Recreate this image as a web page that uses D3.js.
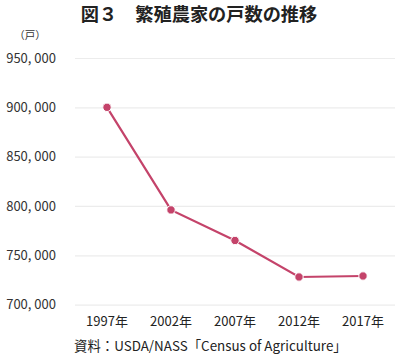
<!DOCTYPE html>
<html><head><meta charset="utf-8">
<script src="https://cdn.jsdelivr.net/npm/d3@7"></script>
<style>body{margin:0;background:#fff}svg{display:block}text{font-family:"Noto Sans CJK JP","Noto Sans",sans-serif}</style>
</head><body>
<script>
const categories = ["1997年","2002年","2007年","2012年","2017年"];
const values = [900000, 796000, 765000, 728000, 729000];
const yTicks = [700000, 750000, 800000, 850000, 900000, 950000];
const title = "図３　繁殖農家の戸数の推移";
const unit = "（戸）";
const source = "資料：USDA/NASS「Census of Agriculture」";

const W = 400, H = 358;
const svg = d3.select("body").append("svg").attr("width", W).attr("height", H);
const x = d3.scaleBand().domain(categories).range([75, 395]);
const y = d3.scaleLinear().domain([700000, 950000]).range([304.6, 58]);
const fmt = v => d3.format(",")(v).replace(",", ", ");

svg.append("text").attr("x", 199).attr("y", 20.5).attr("text-anchor", "middle")
  .attr("font-size", 18.2).attr("font-weight", "bold").attr("fill", "#222").text(title);
svg.append("text").attr("x", 30).attr("y", 39).attr("text-anchor", "middle")
  .attr("font-size", 10.5).attr("fill", "#333").text(unit);

const gy = svg.append("g").attr("transform", "translate(75,0)")
  .call(d3.axisLeft(y).tickValues(yTicks).tickSize(-320).tickFormat(fmt).tickPadding(19));
gy.select(".domain").remove();
gy.selectAll(".tick line").attr("stroke", "#ececec").attr("stroke-width", 1.2);
gy.selectAll(".tick text").attr("font-size", 13).attr("fill", "#333");

const gx = svg.append("g").attr("transform", "translate(0,305)")
  .call(d3.axisBottom(x).tickSize(0).tickPadding(12));
gx.select(".domain").remove();
gx.selectAll(".tick text").attr("font-size", 13).attr("fill", "#222");

const cx = d => x(d) + x.bandwidth() / 2;
const data = categories.map((c, i) => ({c, v: values[i]}));
svg.append("path").datum(data)
  .attr("d", d3.line().x(d => cx(d.c)).y(d => y(d.v)))
  .attr("fill", "none").attr("stroke", "#c4436a").attr("stroke-width", 2.2);
svg.selectAll("circle").data(data).join("circle")
  .attr("cx", d => cx(d.c)).attr("cy", d => y(d.v)).attr("r", 4.2)
  .attr("fill", "#c4436a").attr("stroke", "#fff").attr("stroke-width", 1);

svg.append("text").attr("x", 74).attr("y", 351).attr("font-size", 13.4).attr("fill", "#222").text(source);
</script>
</body></html>
